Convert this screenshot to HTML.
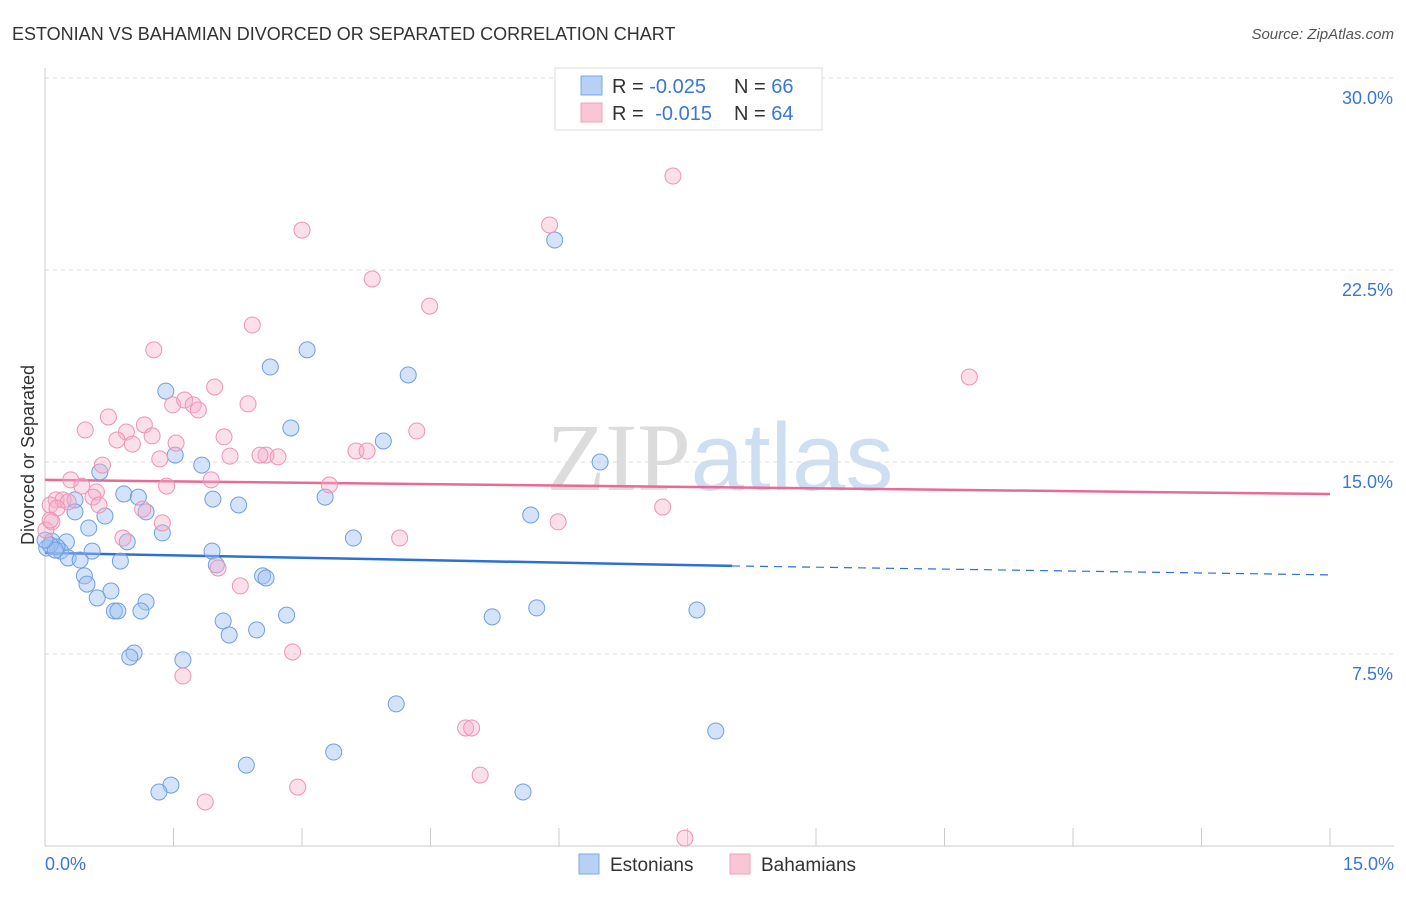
<!DOCTYPE html>
<html><head><meta charset="utf-8"><style>
body{margin:0;background:#fff;font-family:"Liberation Sans",sans-serif}
svg text{font-family:"Liberation Sans",sans-serif}
</style></head><body>
<svg id="chart" width="1406" height="892" xmlns="http://www.w3.org/2000/svg">
<text x="12" y="40" font-size="18" fill="#333">ESTONIAN VS BAHAMIAN DIVORCED OR SEPARATED CORRELATION CHART</text>
<text x="1394" y="39" font-size="15" fill="#555" text-anchor="end" font-style="italic">Source: ZipAtlas.com</text>
<text x="720" y="490" font-size="96" text-anchor="middle" fill="#e6e6e6"><tspan font-family="Liberation Serif" fill="#dcdcdc">ZIP</tspan><tspan fill="#cfdff2">atlas</tspan></text>
<g id="grid"></g>
<g id="axes"></g>
<g id="trends"></g>
<g id="points"></g>
<text transform="translate(34,455) rotate(-90)" font-size="18" fill="#333" text-anchor="middle">Divorced or Separated</text>
<g>
<rect x="555" y="68" width="267" height="62" fill="#fff" stroke="#ddd"/>
<rect x="581" y="76" width="21" height="19" fill="#b7d1f5" stroke="#7aa7e6"/>
<rect x="581" y="103" width="21" height="19" fill="#f9c6d6" stroke="#f0a0bc"/>
<text x="612" y="93" font-size="20" fill="#333">R = <tspan fill="#3a76d6">-0.025</tspan><tspan x="734">N = </tspan><tspan fill="#3a76d6">66</tspan></text>
<text x="612" y="120" font-size="20" fill="#333">R = <tspan fill="#3a76d6" dx="6">-0.015</tspan><tspan x="734">N = </tspan><tspan fill="#3a76d6">64</tspan></text>
</g>
<g>
<rect x="579" y="854" width="20" height="20" fill="#b7d1f5" stroke="#7aa7e6"/>
<text x="610" y="871" font-size="19" fill="#333">Estonians</text>
<rect x="730" y="854" width="20" height="20" fill="#f9c6d6" stroke="#f0a0bc"/>
<text x="761" y="871" font-size="19" fill="#333">Bahamians</text>
</g>
</svg>
<script>
const yTicks=[7.5,15,22.5,30];
const yTickLabels=["7.5%","15.0%","22.5%","30.0%"];
const xTicks=[0,1.5,3,4.5,6,7.5,9,10.5,12,13.5,15];
const estX=[5.95,3.06,2.63,4.24,1.41,2.87,3.95,1.52,6.48,0.64,1.83,0.92,1.09,1.96,2.26,3.27,0.35,0.35,0.70,1.18,5.67,0.51,1.37,0.96,0.08,0.25,3.60,0.18,0.55,1.95,0.14,0.27,0.41,0.88,2.0,2.54,2.58,0.46,0.49,0.77,0.61,1.18,0.81,0.85,1.12,5.22,5.74,7.61,2.82,2.08,2.15,2.47,1.04,0.99,1.61,4.10,7.83,3.37,2.35,1.47,1.33,5.58,0.02,0.06,0.12,0.0];
const estY=[23.67,19.38,18.71,18.40,17.77,16.33,15.82,15.27,15.0,14.61,14.88,13.75,13.63,13.55,13.32,13.63,13.52,13.05,12.89,13.05,12.93,12.42,12.23,11.88,11.91,11.88,12.03,11.52,11.52,11.52,11.68,11.25,11.17,11.13,10.98,10.55,10.47,10.55,10.23,9.96,9.69,9.53,9.18,9.18,9.18,8.95,9.30,9.22,9.02,8.79,8.24,8.44,7.54,7.38,7.27,5.55,4.49,3.67,3.16,2.38,2.11,2.11,11.64,11.76,11.56,11.95];
const bahX=[7.33,5.89,3.0,3.82,4.49,2.42,1.27,10.79,1.98,2.37,1.49,1.63,1.73,1.79,0.74,1.16,0.47,0.95,1.25,4.34,2.09,1.02,0.84,1.53,2.58,2.16,2.72,2.51,3.63,3.76,1.34,0.67,1.94,0.30,0.43,1.42,0.60,3.32,0.56,0.13,0.21,0.27,0.06,0.14,0.63,1.14,7.21,5.99,1.37,0.08,0.01,0.91,4.14,2.28,2.02,2.89,1.61,4.91,4.98,5.08,2.95,1.87,7.47,0.06];
const bahY=[26.17,24.26,24.06,22.15,21.09,20.35,19.38,18.32,17.93,17.27,17.23,17.42,17.23,17.03,16.76,16.45,16.25,16.17,16.02,16.21,15.98,15.70,15.86,15.74,15.27,15.23,15.20,15.27,15.43,15.43,15.12,14.88,14.30,14.30,14.06,14.06,13.83,14.10,13.63,13.52,13.52,13.44,13.32,13.20,13.32,13.16,13.24,12.66,12.62,12.66,12.34,12.03,12.03,10.16,10.86,7.58,6.64,4.61,4.61,2.77,2.30,1.72,0.31,12.73];
const estTrend=[11.45,10.94,10.59]; // at x=0, 8.02, 15
const bahTrend=[14.30,13.75]; // at x=0, 15
const NS="http://www.w3.org/2000/svg";
const X=v=>45+v/15*1285, Y=v=>846-v/30*768;
function mk(tag,attrs,parent){const e=document.createElementNS(NS,tag);for(const k in attrs)e.setAttribute(k,attrs[k]);parent.appendChild(e);return e;}
const grid=document.getElementById('grid'),axes=document.getElementById('axes'),tr=document.getElementById('trends'),pts=document.getElementById('points');
yTicks.forEach((t,i)=>{
 const l=mk('line',{x1:45,x2:1394,y1:Y(t),y2:Y(t),stroke:'#ddd','stroke-dasharray':'4,4'},grid);
 
 
 const tx=mk('text',{x:1393,y:Y(t)+26,'font-size':18,fill:'#3a76d6','text-anchor':'end'},grid);
 tx.textContent=yTickLabels[i];
 
 
});
const yl=mk('line',{x1:45,x2:45,y1:68,y2:846,stroke:'#ccc'},axes);


const xl=mk('line',{x1:45,x2:1394,y1:846,y2:846,stroke:'#ccc'},axes);


xTicks.forEach(t=>{const l=mk('line',{x1:X(t),x2:X(t),y1:828,y2:846,stroke:'#ccc'},axes);
 
 });
const x0=mk('text',{x:45,y:870,'font-size':18,fill:'#3a76d6'},axes);x0.textContent='0.0%';


const x1=mk('text',{x:1394,y:870,'font-size':18,fill:'#3a76d6','text-anchor':'end'},axes);x1.textContent='15.0%';


const t1=mk('line',{x1:X(0),y1:Y(estTrend[0]),x2:X(8.02),y2:Y(estTrend[1]),stroke:'#2d6fd6','stroke-width':2.5},tr);


const t2=mk('line',{x1:X(8.02),y1:Y(estTrend[1]),x2:X(15),y2:Y(estTrend[2]),stroke:'#2d6fd6','stroke-width':1.2,'stroke-dasharray':'8,6'},tr);


const t3=mk('line',{x1:X(0),y1:Y(bahTrend[0]),x2:X(15),y2:Y(bahTrend[1]),stroke:'#e86a95','stroke-width':2.5},tr);


estX.forEach((v,i)=>{const c=mk('circle',{cx:X(v),cy:Y(estY[i]),r:8,fill:'rgba(160,194,242,0.45)',stroke:'#6f9fe2','stroke-width':1},pts);
 
 });
bahX.forEach((v,i)=>{const c=mk('circle',{cx:X(v),cy:Y(bahY[i]),r:8,fill:'rgba(246,176,200,0.4)',stroke:'#ee93b4','stroke-width':1},pts);
 
 });
</script>
</body></html>
